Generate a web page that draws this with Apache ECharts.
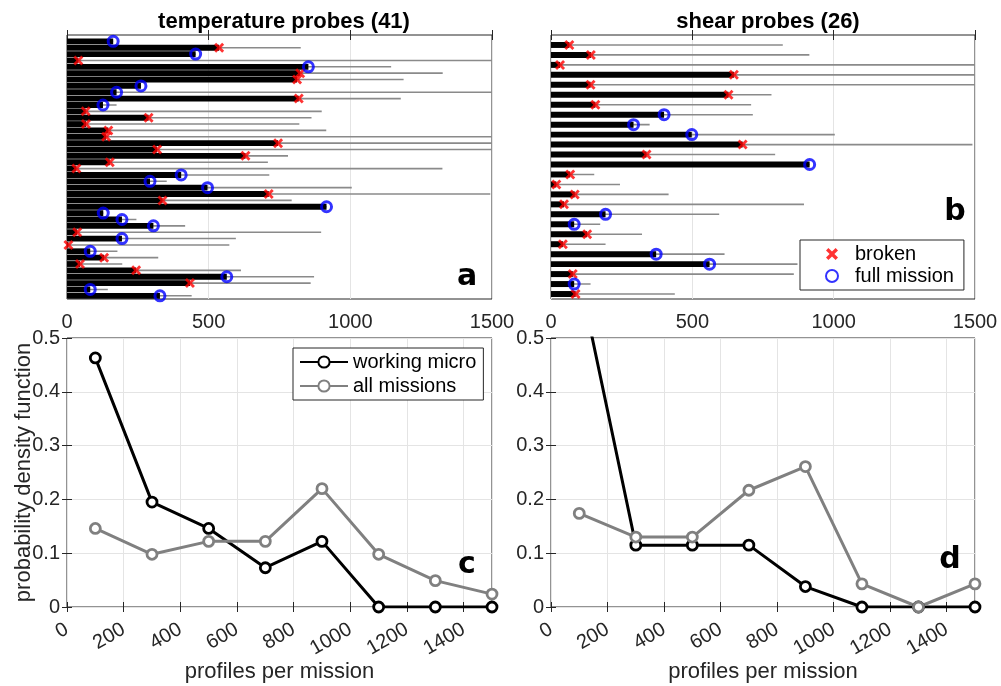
<!DOCTYPE html>
<html><head><meta charset="utf-8">
<script src="https://cdn.jsdelivr.net/npm/echarts@6/dist/echarts.min.js"></script>
<style>html,body{margin:0;padding:0;background:#fff}#c{width:1001px;height:686px}</style>
</head><body><div id="c"></div>
<script>
// ---- data ----
const tempWork  = [163,537,454,40,852,823,812,261,175,818,127,66,288,67,146,138,745,318,630,151,33,403,293,496,712,337,916,128,194,305,36,194,5,82,131,46,244,564,434,82,328];
const tempTotal = [163,825,454,1500,1144,1326,1188,261,1500,1178,175,899,863,820,915,1500,1500,1500,780,709,1325,714,352,1005,1494,793,916,128,245,417,897,596,573,178,322,195,614,872,860,144,440];
const tempEnd   = ['o','x','o','x','o','x','x','o','o','x','o','x','x','x','x','x','x','x','x','x','x','o','o','o','x','x','o','o','o','o','x','o','x','o','x','x','x','o','x','o','o'];

const shearWork  = [65,141,32,647,140,628,157,400,292,498,678,338,915,68,19,84,46,193,82,128,42,372,561,77,82,87];
const shearTotal = [820,914,1500,1500,1500,780,708,714,349,1004,1491,793,915,153,244,416,895,595,174,322,193,614,872,859,140,438];
const shearEnd   = ['x','x','x','x','x','x','x','o','o','o','x','x','o','x','x','x','x','o','o','x','x','o','o','x','o','x'];

const binCenters      = [100,300,500,700,900,1100,1300,1500];
const tempWorkingPdf  = [0.463,0.195,0.146,0.073,0.122,0,0,0];
const tempAllPdf      = [0.146,0.098,0.122,0.122,0.220,0.098,0.049,0.024];
const shearWorkingPdf = [0.615,0.115,0.115,0.115,0.038,0,0,0];
const shearAllPdf     = [0.174,0.130,0.130,0.217,0.261,0.043,0,0.043];

const titles = ['temperature probes (41)','shear probes (26)'];
const letters = ['a','b','c','d'];

// ---- styling ----
const FONT = 'Liberation Sans, Arial, Helvetica, sans-serif';
const AX = '#262626';
const CROSS = 'path://M2,0 L5,3 L8,0 L10,2 L7,5 L10,8 L8,10 L5,7 L2,10 L0,8 L3,5 L0,2 Z';
const plain = v => String(v);

const grids = [
  {left:67, top:35, width:425, height:264},
  {left:551, top:35, width:424, height:264},
  {left:67, top:338, width:425, height:269},
  {left:551, top:338, width:424, height:269}
].map(g => Object.assign({show:true, borderColor:AX, borderWidth:1, backgroundColor:'#fff', containLabel:false}, g));

function xTop(gi, labels){
  return [
    {type:'value', gridIndex:gi, position:'bottom', min:0, max:1500, interval:500,
     axisLine:{show:false}, axisTick:{show:true, inside:true, length:5, lineStyle:{color:AX}},
     axisLabel:{show:labels, color:AX, fontSize:20, fontFamily:FONT, margin:13, formatter:plain},
     splitLine:{show:true, lineStyle:{color:'#e4e4e4', width:1}}},
    {type:'value', gridIndex:gi, position:'top', min:0, max:1500, interval:500,
     axisLine:{show:false}, axisTick:{show:true, inside:true, length:5, lineStyle:{color:AX}},
     axisLabel:{show:false}, splitLine:{show:false}}
  ];
}
function xBottom(gi){
  return [
    {type:'value', gridIndex:gi, position:'bottom', min:0, max:1500, interval:200,
     name:'profiles per mission', nameLocation:'middle', nameGap:54, nameMoveOverlap:false,
     nameTextStyle:{color:AX, fontSize:22, fontFamily:FONT},
     axisLine:{show:false}, axisTick:{show:true, inside:true, length:5, lineStyle:{color:AX}},
     axisLabel:{show:true, rotate:30, showMaxLabel:false, color:AX, fontSize:20, fontFamily:FONT, margin:21, formatter:plain},
     splitLine:{show:true, lineStyle:{color:'#e4e4e4', width:1}}},
    {type:'value', gridIndex:gi, position:'top', min:0, max:1500, interval:200,
     axisLine:{show:false}, axisTick:{show:true, inside:true, length:5, lineStyle:{color:AX}},
     axisLabel:{show:false}, splitLine:{show:false}}
  ];
}
function yBottom(gi, withName){
  const a = {type:'value', gridIndex:gi, position:'left', min:0, max:0.5, interval:0.1,
     axisLine:{show:false}, axisTick:{show:true, inside:true, length:5, lineStyle:{color:AX}},
     axisLabel:{show:true, color:AX, fontSize:20, fontFamily:FONT, margin:7},
     splitLine:{show:true, lineStyle:{color:'#e4e4e4', width:1}}};
  if (withName) Object.assign(a, {name:'probability density function', nameLocation:'middle', nameGap:32, nameMoveOverlap:false,
     nameTextStyle:{color:AX, fontSize:22, fontFamily:FONT}});
  return [a,
    {type:'value', gridIndex:gi, position:'right', min:0, max:0.5, interval:0.1,
     axisLine:{show:false}, axisTick:{show:true, inside:true, length:5, lineStyle:{color:AX}},
     axisLabel:{show:false}, splitLine:{show:false}}];
}
function yTop(gi, n){
  return {type:'value', gridIndex:gi, inverse:true, min:0, max:n+0.5,
    axisLine:{show:false}, axisTick:{show:false}, axisLabel:{show:false}, splitLine:{show:false}};
}

function probeSeries(xi, yi, work, total, ends, ratio){
  const rows = work.map((w,i)=>[w, i+1, total[i]]);
  return [
    {type:'custom', xAxisIndex:xi, yAxisIndex:yi, clip:true, silent:true, z:2,
     encode:{x:[0,2], y:1}, data:rows,
     renderItem:(p, api)=>{
       const y = api.value(1);
       const a = api.coord([0,y]), b = api.coord([api.value(2), y]);
       return {type:'line', shape:{x1:a[0], y1:a[1], x2:b[0], y2:b[1]}, style:{stroke:'#8a8a8a', lineWidth:1.6}};
     }},
    {type:'custom', xAxisIndex:xi, yAxisIndex:yi, clip:true, silent:true, z:3,
     encode:{x:0, y:1}, data:rows,
     renderItem:(p, api)=>{
       const y = api.value(1);
       const a = api.coord([0,y]), b = api.coord([api.value(0), y]);
       const h = Math.abs(api.size([0,1])[1]) * ratio;
       return {type:'rect', shape:{x:a[0], y:a[1]-h/2, width:b[0]-a[0], height:h}, style:{fill:'#000'}};
     }},
    {type:'scatter', name:'broken', xAxisIndex:xi, yAxisIndex:yi, z:5, symbol:CROSS, symbolSize:10,
     itemStyle:{color:'#ff0000'}, silent:true,
     data: work.map((w,i)=> ends[i]==='x' ? [w, i+1] : null).filter(d=>d)},
    {type:'scatter', name:'full mission', xAxisIndex:xi, yAxisIndex:yi, z:5, symbol:'circle', symbolSize:10,
     itemStyle:{color:'rgba(0,0,0,0)', borderColor:'#0000ff', borderWidth:3}, silent:true,
     data: work.map((w,i)=> ends[i]==='o' ? [w, i+1] : null).filter(d=>d)}
  ];
}
function pdfSeries(xi, yi, working, all){
  const mk = (name, vals, col) => ({type:'line', name, xAxisIndex:xi, yAxisIndex:yi, clip:true,
     data: binCenters.map((x,i)=>[x, vals[i]]), symbol:'circle', symbolSize:10, showSymbol:true,
     lineStyle:{color:col, width:3}, itemStyle:{color:'#fff', borderColor:col, borderWidth:2.8}, silent:true, animation:false});
  return [mk('working micro', working, '#000'), mk('all missions', all, '#808080')];
}

const xAxes = [].concat(xTop(0,true), xTop(1,true), xBottom(2), xBottom(3));
const yAxes = [yTop(0,41), yTop(1,26)].concat(yBottom(2,true), yBottom(3,false));

const series = [].concat(
  probeSeries(0, 0, tempWork, tempTotal, tempEnd, 0.92),
  probeSeries(2, 1, shearWork, shearTotal, shearEnd, 0.6),
  pdfSeries(4, 2, tempWorkingPdf, tempAllPdf),
  pdfSeries(6, 4, shearWorkingPdf, shearAllPdf)
);

const letterPos = [[467,277],[955,212],[467,565],[950,560]];

const option = {
  animation:false,
  backgroundColor:'#fff',
  title: [
    {text:titles[0], left:279, top:6, textAlign:'center', textStyle:{fontSize:22, fontWeight:'bold', color:'#000', fontFamily:FONT}},
    {text:titles[1], left:763, top:6, textAlign:'center', textStyle:{fontSize:22, fontWeight:'bold', color:'#000', fontFamily:FONT}}
  ],
  grid: grids,
  xAxis: xAxes,
  yAxis: yAxes,
  legend: [
    {data:['broken','full mission'], orient:'vertical', left:800, top:240, itemWidth:12, itemHeight:12, itemGap:2,
     padding:[4,10,4,25], backgroundColor:'#fff', borderColor:AX, borderWidth:1, borderRadius:0,
     selectedMode:false, textStyle:{fontSize:20, fontFamily:FONT, color:'#000', padding:[0,0,0,12]}},
    {data:['working micro','all missions'], orient:'vertical', left:293, top:348, itemWidth:48, itemHeight:14, itemGap:4,
     padding:[4,7,4,6], backgroundColor:'#fff', borderColor:AX, borderWidth:1, borderRadius:0,
     selectedMode:false, textStyle:{fontSize:20, fontFamily:FONT, color:'#000'}}
  ],
  graphic: letters.map((t,i)=>({type:'text', x:letterPos[i][0], y:letterPos[i][1], z:100,
     style:{text:t, fill:'#000', font:'bold 30px "DejaVu Sans", sans-serif', textAlign:'center', textVerticalAlign:'middle'}})),
  series
};

const chart = echarts.init(document.getElementById('c'), null, {renderer:'canvas'});
chart.setOption(option);
</script>
</body></html>
